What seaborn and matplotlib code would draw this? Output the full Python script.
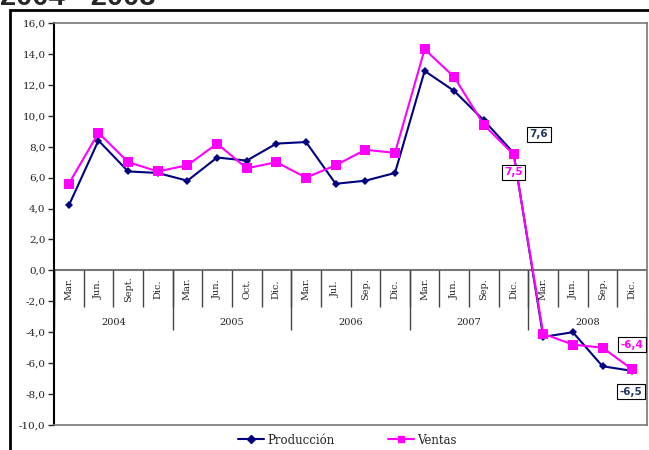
"""Producción y ventas, variación interanual 2004 - 2008"""

import matplotlib.pyplot as plt
import matplotlib.patches as mpatches
import numpy as np
import pandas as pd
import seaborn as sns

months = ['Mar.', 'Jun.', 'Sept.', 'Dic.',
          'Mar.', 'Jun.', 'Oct.', 'Dic.',
          'Mar.', 'Jul.', 'Sep.', 'Dic.',
          'Mar.', 'Jun.', 'Sep.', 'Dic.',
          'Mar.', 'Jun.', 'Sep.', 'Dic.']
years = ['2004', '2005', '2006', '2007', '2008']
produccion = [4.2, 8.4, 6.4, 6.3, 5.8, 7.3, 7.1, 8.2, 8.3, 5.6,
              5.8, 6.3, 12.9, 11.6, 9.7, 7.6, -4.3, -4.0, -6.2, -6.5]
ventas = [5.6, 8.9, 7.0, 6.4, 6.8, 8.2, 6.6, 7.0, 6.0, 6.8,
          7.8, 7.6, 14.3, 12.5, 9.4, 7.5, -4.1, -4.8, -5.0, -6.4]

df = pd.DataFrame({'idx': list(range(len(months))) * 2,
                   'valor': produccion + ventas,
                   'serie': ['Producción'] * len(months) + ['Ventas'] * len(months)})

sns.set_style('white')
serif = 'DejaVu Serif'

fig = plt.figure(figsize=(6.49, 4.5), dpi=100)
ax = fig.add_axes([54 / 649, 1 - 425 / 450, 593 / 649, 402 / 450])

colors = {'Producción': '#000080', 'Ventas': '#FF00FF'}
sns.lineplot(data=df, x='idx', y='valor', hue='serie', style='serie',
             palette=colors, markers={'Producción': 'D', 'Ventas': 's'},
             dashes=False, linewidth=1.5, markeredgewidth=0, ax=ax, legend=False)
for line in ax.lines:
    if line.get_marker() == 'D':
        line.set_markersize(4.5)
    else:
        line.set_markersize(6.5)

ax.set_xlim(-0.5, len(months) - 0.5)
ax.set_ylim(-10, 16)
ax.set_yticks(np.arange(-10, 17, 2))
ax.set_yticklabels([f'{v:.1f}'.replace('.', ',') for v in np.arange(-10, 17, 2)],
                   fontsize=7.5, family=serif, color='#222222')
ax.tick_params(axis='y', direction='out', length=4, width=1, left=True, pad=2)
ax.set_xticks([])
ax.set_xlabel('')
ax.set_ylabel('')

for side in ['top', 'bottom', 'right']:
    ax.spines[side].set_color('#777777')
    ax.spines[side].set_linewidth(1.2)
ax.spines['left'].set_color('black')
ax.spines['left'].set_linewidth(1.5)
ax.axhline(0, color='#777777', linewidth=1.5, zorder=1)

# category axis at zero
for i, m in enumerate(months):
    ax.text(i, -1.2, m, rotation=90, ha='center', va='center',
            fontsize=7, family=serif, color='#222222')
ax.vlines(np.arange(-0.5, len(months), 1), -2.35, 0, color='#444444', linewidth=1)
ax.vlines(np.arange(-0.5, len(months) + 1, 4), -3.85, 0, color='#444444', linewidth=1)
for k, y in enumerate(years):
    ax.text(4 * k + 1.5, -3.38, y, ha='center', va='center',
            fontsize=7, family=serif, color='#222222')

# value labels
box = dict(boxstyle='square,pad=0.25', facecolor='white', edgecolor='black', linewidth=0.8)
ax.text(15.85, 8.8, '7,6', color='#1F3864', fontsize=7.5, fontweight='bold',
        ha='center', va='center', bbox=box)
ax.text(15.0, 6.35, '7,5', color='#FF00FF', fontsize=7.5, fontweight='bold',
        ha='center', va='center', bbox=box)
ax.text(19.0, -4.8, '-6,4', color='#FF00FF', fontsize=7.5, fontweight='bold',
        ha='center', va='center', bbox=box)
ax.text(18.95, -7.85, '-6,5', color='#1F3864', fontsize=7.5, fontweight='bold',
        ha='center', va='center', bbox=box)

# legend
handles = [plt.Line2D([], [], color='#000080', marker='D', markersize=4, linewidth=1.5),
           plt.Line2D([], [], color='#FF00FF', marker='s', markersize=5, linewidth=1.5)]
fig.legend(handles, ['Producción', 'Ventas'], loc='center', ncol=2,
           bbox_to_anchor=(0.535, 0.022), frameon=False, handlelength=2.2,
           handletextpad=0.3, columnspacing=4.5,
           prop={'family': serif, 'size': 8.5})

# title (cut off at top, as in the source) and outer frame
fig.text(0.0, 1 - 5 / 450, '2004 - 2008', fontsize=21, fontweight='bold',
         family='Liberation Sans', ha='left', va='baseline')
fig.patches.append(mpatches.Rectangle((10 / 649, -0.01), 1.0, 1 - 10 / 450 + 0.01,
                                      transform=fig.transFigure, fill=False,
                                      edgecolor='black', linewidth=2))

fig.savefig('out.png', dpi=100)
